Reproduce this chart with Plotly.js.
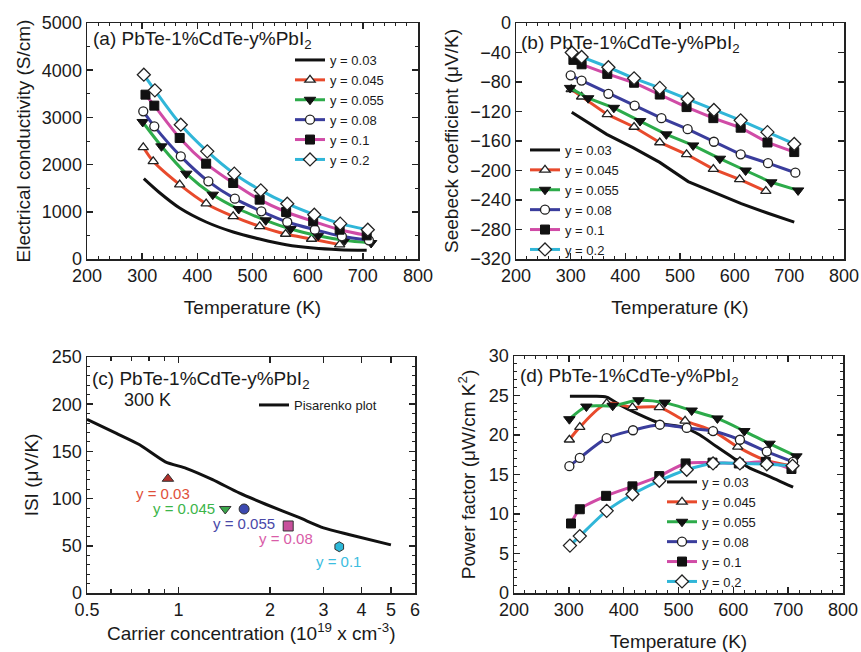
<!DOCTYPE html>
<html>
<head>
<meta charset="utf-8">
<script src="https://cdn.plot.ly/plotly-3.0.1.min.js"></script>
<style>html,body{margin:0;padding:0;background:#fff;}#chart{width:861px;height:652px;}</style>
</head>
<body>
<div id="chart"></div>
<script>
// ---------- Series labels ----------
const seriesNames = ['y = 0.03', 'y = 0.045', 'y = 0.055', 'y = 0.08', 'y = 0.1', 'y = 0.2'];

// ---------- (a) Electrical conductivity (S/cm) vs T (K) ----------
const Ta_003 = [303, 330, 368, 416, 465, 513, 561, 610, 658, 707];
const Sa_003 = [1702, 1420, 1080, 784, 572, 424, 304, 233, 198, 184];
const Ta_0045 = [302, 320, 368, 416, 465, 513, 560, 607, 658];
const Sa_0045 = [2366, 2069, 1575, 1172, 904, 692, 530, 424, 304];
const Ta_0055 = [301, 335, 380, 428, 475, 524, 569, 619, 667, 715];
const Sa_0055 = [2903, 2387, 1808, 1363, 1059, 819, 636, 494, 395, 339];
const Ta_008 = [302, 322, 370, 420, 468, 516, 563, 613, 662, 711];
const Sa_008 = [3128, 2811, 2175, 1645, 1278, 1010, 784, 621, 480, 395];
const Ta_01 = [306, 322, 368, 416, 465, 513, 561, 610, 658, 707];
const Sa_01 = [3482, 3249, 2564, 2020, 1610, 1257, 996, 798, 621, 501];
const Ta_02 = [303, 323, 370, 418, 467, 515, 563, 612, 659, 709];
const Sa_02 = [3905, 3573, 2846, 2281, 1808, 1455, 1172, 939, 749, 621];

// ---------- (b) Seebeck coefficient (uV/K) vs T (K) ----------
const Tb_003 = [302, 366, 414, 463, 515, 564, 612, 661, 709];
const Sb_003 = [-121, -151, -169, -189, -215, -230, -245, -258, -270];
const Tb_0045 = [301, 320, 367, 416, 463, 512, 561, 609, 657];
const Sb_0045 = [-90, -100, -124, -141, -162, -178, -198, -212, -228];
const Tb_0055 = [299, 332, 379, 427, 475, 524, 573, 620, 667, 716];
const Sb_0055 = [-88, -102, -115, -133, -151, -166, -184, -200, -216, -227];
const Tb_008 = [300, 320, 369, 417, 466, 514, 562, 611, 661, 711];
const Sb_008 = [-71, -78, -96, -112, -129, -144, -161, -178, -190, -203];
const Tb_01 = [305, 320, 367, 416, 463, 512, 561, 611, 660, 709];
const Sb_01 = [-50, -56, -69, -81, -97, -114, -129, -142, -162, -175];
const Tb_02 = [302, 320, 369, 416, 463, 514, 562, 611, 660, 709];
const Sb_02 = [-40, -46, -60, -75, -88, -103, -118, -132, -148, -164];

// ---------- (c) |S| vs carrier concentration at 300 K ----------
const nPis = [0.5, 0.625, 0.745, 0.905, 1.06, 1.295, 1.583, 1.936, 2.49, 3.0, 3.63, 5.0];
const SPis = [184, 169, 157, 139, 132, 120, 106, 94, 80, 69, 62, 51];
const nPts = [0.923, 1.425, 1.644, 2.296, 3.38];
const SPts = [121, 89, 89, 71, 49];
const ptLabels = ['y = 0.03', 'y = 0.045', 'y = 0.055', 'y = 0.08', 'y = 0.1'];
const cTicks = [0.5, 1, 2, 3, 4, 5, 6];
const cMinor = [0.6, 0.7, 0.8, 0.9];

// ---------- (d) Power factor (uW/cm K^2) vs T (K) ----------
const Td_003 = [302, 340, 369, 393, 422, 466, 508, 539, 570, 600, 630, 661, 709];
const Pd_003 = [24.9, 24.9, 24.8, 23.8, 22.8, 21.5, 21.0, 20.0, 18.5, 17.1, 15.8, 14.9, 13.4];
const Td_0045 = [301, 320, 369, 416, 465, 512, 563, 608, 659, 706];
const Pd_0045 = [19.4, 21.0, 24.0, 23.5, 23.5, 21.8, 20.5, 18.5, 16.8, 16.1];
const Td_0055 = [301, 332, 380, 427, 475, 524, 571, 620, 666, 715];
const Pd_0055 = [22.0, 23.6, 23.7, 24.4, 24.1, 23.1, 22.1, 20.5, 18.9, 17.3];
const Td_008 = [301, 320, 369, 417, 466, 515, 563, 612, 661, 709];
const Pd_008 = [16.05, 17.1, 19.6, 20.6, 21.3, 20.9, 20.5, 19.4, 17.9, 16.6];
const Td_01 = [304, 320, 368, 416, 465, 513, 562, 610, 659, 706];
const Pd_01 = [8.8, 10.6, 12.3, 13.5, 14.8, 16.4, 16.5, 16.4, 16.6, 15.7];
const Td_02 = [302, 320, 369, 416, 465, 515, 563, 612, 661, 708];
const Pd_02 = [6.0, 7.2, 10.4, 12.5, 14.2, 15.6, 16.4, 16.4, 16.3, 16.1];

// ---------- styles ----------
const lineColors = ['#111111', '#e84a2c', '#2dab4a', '#3a3d9c', '#d04ba6', '#30b6d8'];
const markerSpec = [
  null,
  {symbol: 'triangle-up', color: '#ffffff', size: 9, line: {color: '#222', width: 1.3}},
  {symbol: 'triangle-down', color: '#111111', size: 10, line: {color: '#111', width: 1}},
  {symbol: 'circle', color: '#ffffff', size: 9, line: {color: '#222', width: 1.3}},
  {symbol: 'square', color: '#111111', size: 9, line: {color: '#111', width: 1}},
  {symbol: 'diamond', color: '#ffffff', size: 10, line: {color: '#222', width: 1.3}}
];
const ptColors = ['#b0302a', '#3aa74a', '#3c49b0', '#c8509c', '#2cb8d8'];
const ptSymbols = ['triangle-up', 'triangle-down', 'circle', 'square', 'hexagon'];
const labColors = ['#e0503a', '#3cb54a', '#4a48a8', '#d95ca8', '#3cbde0'];

const traces = [];
function addSet(xs, ys, xa, ya, leg, shape) {
  for (let i = 0; i < 6; i++) {
    const t = {
      type: 'scatter', x: xs[i], y: ys[i], xaxis: xa, yaxis: ya, legend: leg,
      name: seriesNames[i],
      mode: i === 0 ? 'lines' : 'lines+markers',
      line: {color: lineColors[i], width: 3, shape: shape, smoothing: 0.8},
      showlegend: true
    };
    if (i > 0) t.marker = markerSpec[i];
    traces.push(t);
  }
}
addSet([Ta_003, Ta_0045, Ta_0055, Ta_008, Ta_01, Ta_02],
       [Sa_003, Sa_0045, Sa_0055, Sa_008, Sa_01, Sa_02], 'x', 'y', 'legend', 'spline');
addSet([Tb_003, Tb_0045, Tb_0055, Tb_008, Tb_01, Tb_02],
       [Sb_003, Sb_0045, Sb_0055, Sb_008, Sb_01, Sb_02], 'x2', 'y2', 'legend2', 'linear');
addSet([Td_003, Td_0045, Td_0055, Td_008, Td_01, Td_02],
       [Pd_003, Pd_0045, Pd_0055, Pd_008, Pd_01, Pd_02], 'x4', 'y4', 'legend4', 'spline');

traces.push({type: 'scatter', x: nPis, y: SPis, xaxis: 'x3', yaxis: 'y3', legend: 'legend3',
  name: 'Pisarenko plot', mode: 'lines', line: {color: '#111', width: 3, shape: 'spline', smoothing: 0.6}});
traces.push({type: 'scatter', x: nPts, y: SPts, xaxis: 'x3', yaxis: 'y3', showlegend: false,
  mode: 'markers', marker: {symbol: ptSymbols, color: ptColors, size: 10, line: {color: '#333', width: 1}}});

// ---------- axes ----------
const font = 'Arial, "Liberation Sans", sans-serif';
function ax(extra) {
  return Object.assign({
    showline: true, linecolor: '#222', linewidth: 1.5, mirror: 'ticks',
    ticks: 'inside', ticklen: 6, tickwidth: 1.5, tickcolor: '#222',
    showgrid: false, zeroline: false,
    tickfont: {family: font, size: 18, color: '#1a1a1a'}
  }, extra);
}
const W = 861, H = 652;
function xd(a, b) { return [a / W, b / W]; }
function yd(top, bot) { return [1 - bot / H, 1 - top / H]; }
const minorT = {ticks: 'inside', ticklen: 3, tickwidth: 1, tickcolor: '#222', dtick: 20};
const axTitleFont = {family: font, size: 19, color: '#1a1a1a'};
const legFont = {family: font, size: 13, color: '#1a1a1a'};
const panelFont = {family: font, size: 19, color: '#1a1a1a'};

const layout = {
  width: W, height: H, margin: {l: 0, r: 0, t: 0, b: 0},
  paper_bgcolor: '#fff', plot_bgcolor: '#fff',
  font: {family: font, color: '#1a1a1a'},
  xaxis: ax({domain: xd(87, 418), anchor: 'y', range: [200, 800], dtick: 100, minor: minorT,
    title: {text: 'Temperature (K)', font: axTitleFont, standoff: 15}}),
  yaxis: ax({domain: yd(23, 259), anchor: 'x', range: [0, 5000], dtick: 1000,
    minor: {ticks: 'inside', ticklen: 3, tickwidth: 1, tickcolor: '#222', dtick: 500},
    title: {text: 'Electrical conductivity (S/cm)', font: axTitleFont, standoff: 6}}),
  xaxis2: ax({domain: xd(516, 844), anchor: 'y2', range: [200, 800], dtick: 100, minor: minorT,
    title: {text: 'Temperature (K)', font: axTitleFont, standoff: 15}}),
  yaxis2: ax({domain: yd(23, 259), anchor: 'x2', range: [-320, 0], dtick: 40,
    title: {text: 'Seebeck coefficient (μV/K)', font: axTitleFont, standoff: 6}}),
  xaxis3: ax({domain: xd(87, 415), anchor: 'y3', type: 'log', range: [Math.log10(0.5), Math.log10(6)],
    tickmode: 'array', tickvals: cTicks, ticktext: cTicks.map(String),
    minor: {ticks: 'inside', ticklen: 4, tickwidth: 1.5, tickcolor: '#222', tickmode: 'array', tickvals: cMinor}}),
  yaxis3: ax({domain: yd(357, 593), anchor: 'x3', range: [0, 250], dtick: 50,
    minor: {ticks: 'inside', ticklen: 3, tickwidth: 1, tickcolor: '#222', dtick: 10},
    title: {text: 'ISI (μV/K)', font: axTitleFont, standoff: 8}}),
  xaxis4: ax({domain: xd(514, 843), anchor: 'y4', range: [200, 800], dtick: 100, minor: minorT,
    title: {text: 'Temperature (K)', font: axTitleFont, standoff: 15}}),
  yaxis4: ax({domain: yd(356, 593), anchor: 'x4', range: [0, 30], dtick: 5,
    minor: {ticks: 'inside', ticklen: 3, tickwidth: 1, tickcolor: '#222', dtick: 1},
    title: {text: 'Power factor (μW/cm K<sup>2</sup>)', font: axTitleFont, standoff: 8}}),
  legend: {x: 290 / W, y: 1 - 110 / H, xanchor: 'left', yanchor: 'middle', bgcolor: 'rgba(0,0,0,0)',
    font: legFont, tracegroupgap: 0},
  legend2: {x: 525 / W, y: 1 - 200 / H, xanchor: 'left', yanchor: 'middle', bgcolor: 'rgba(0,0,0,0)',
    font: legFont, tracegroupgap: 0},
  legend3: {x: 254 / W, y: 1 - 405 / H, xanchor: 'left', yanchor: 'middle', bgcolor: 'rgba(0,0,0,0)',
    font: {family: font, size: 13, color: '#1a1a1a'}},
  legend4: {x: 662 / W, y: 1 - 532 / H, xanchor: 'left', yanchor: 'middle', bgcolor: 'rgba(0,0,0,0)',
    font: legFont, tracegroupgap: 0},
  annotations: [
    {xref: 'paper', yref: 'paper', x: 91 / W, y: 1 - 40 / H, xanchor: 'left', yanchor: 'middle', showarrow: false,
      text: '(a) PbTe-1%CdTe-y%PbI<sub>2</sub>', font: panelFont},
    {xref: 'paper', yref: 'paper', x: 519 / W, y: 1 - 44 / H, xanchor: 'left', yanchor: 'middle', showarrow: false,
      text: '(b) PbTe-1%CdTe-y%PbI<sub>2</sub>', font: panelFont},
    {xref: 'paper', yref: 'paper', x: 90 / W, y: 1 - 380 / H, xanchor: 'left', yanchor: 'middle', showarrow: false,
      text: '(c) PbTe-1%CdTe-y%PbI<sub>2</sub>', font: panelFont},
    {xref: 'paper', yref: 'paper', x: 147 / W, y: 1 - 400 / H, xanchor: 'center', yanchor: 'middle', showarrow: false,
      text: '300 K', font: {family: font, size: 18, color: '#1a1a1a'}},
    {xref: 'paper', yref: 'paper', x: 518 / W, y: 1 - 377 / H, xanchor: 'left', yanchor: 'middle', showarrow: false,
      text: '(d) PbTe-1%CdTe-y%PbI<sub>2</sub>', font: panelFont},
    // x-axis title of panel (c), set close to its tick labels as in the original
    {xref: 'paper', yref: 'paper', x: 251 / W, y: 1 - 632 / H, xanchor: 'center', yanchor: 'middle', showarrow: false,
      text: 'Carrier concentration (10<sup>19</sup> x cm<sup>-3</sup>)', font: axTitleFont}
  ]
};

// point labels in panel (c), placed relative to each data point
const labShift = [[-5, -15, 'center'], [-8, 0, 'right'], [0, -15, 'center'], [-2, -13, 'center'], [-1, -15, 'center']];
for (let i = 0; i < nPts.length; i++) {
  layout.annotations.push({
    xref: 'x3', yref: 'y3', x: Math.log10(nPts[i]), y: SPts[i], showarrow: false,
    xanchor: labShift[i][2], yanchor: 'middle', xshift: labShift[i][0], yshift: labShift[i][1],
    text: ptLabels[i], font: {family: font, size: 15, color: labColors[i]}
  });
}

Plotly.newPlot('chart', traces, layout, {displayModeBar: false, staticPlot: true});
</script>
</body>
</html>
